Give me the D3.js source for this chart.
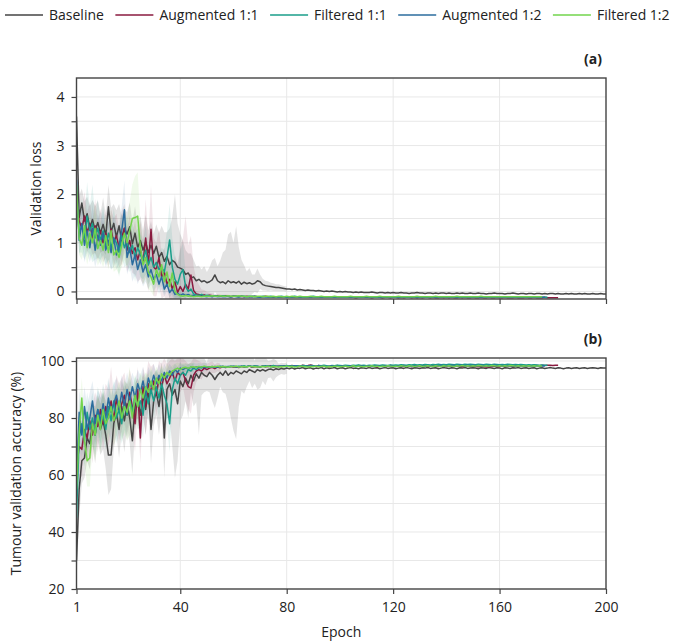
<!DOCTYPE html>
<html>
<head>
<meta charset="utf-8">
<script src="https://cdn.jsdelivr.net/npm/d3@7"></script>
<style>
  body { margin: 0; background: #fff; }
  svg { font-family: "Open Sans", "Noto Sans", sans-serif; }
</style>
</head>
<body>
<svg width="674" height="643"></svg>
<script>
// series
const seriesNames = ["Baseline", "Augmented 1:1", "Filtered 1:1", "Augmented 1:2", "Filtered 1:2"];
const seriesColors = ["#454545", "#8a1a3f", "#1a9e8a", "#2b6c9e", "#72d44c"];

// ticks
const xTicks = [1, 40, 80, 120, 160, 200];
const lossTicks = [0, 1, 2, 3, 4];
const accTicks = [20, 40, 60, 80, 100];

// validation loss, one value per epoch (epoch = index + 1)
const lossBaseline = [
  3.60, 1.52, 1.82, 1.45, 1.60, 1.30, 1.48, 1.25, 1.42, 1.20,
  1.38, 1.15, 1.74, 1.22, 1.40, 1.12, 1.35, 1.05, 1.30, 1.18,
  1.33, 0.98, 1.20, 0.90, 1.05, 0.85, 1.02, 0.80, 0.95, 0.78,
  0.93, 0.70, 0.80, 0.62, 0.72, 0.55, 0.64, 0.60, 0.50, 0.48,
  0.45, 0.35, 0.38, 0.28, 0.30, 0.22, 0.25, 0.20, 0.22, 0.18,
  0.20, 0.24, 0.34, 0.22, 0.18, 0.20, 0.16, 0.22, 0.18, 0.20,
  0.17, 0.21, 0.15, 0.19, 0.16, 0.18, 0.15, 0.17, 0.22, 0.20,
  0.14, 0.12, 0.11, 0.10, 0.09, 0.08, 0.08, 0.07, 0.06, 0.05,
  0.05, 0.04, 0.05, 0.03, 0.04, 0.03, 0.02, 0.03, 0.02, 0.02,
  0.01, 0.02, 0.01, 0.00, 0.01, 0.00, 0.01, 0.00, -0.01, 0.00,
  -0.01, 0.00, -0.01, -0.01, -0.02, -0.01, -0.02, -0.01, -0.02, -0.02,
  -0.02, -0.01, -0.02, -0.03, -0.02, -0.02, -0.03, -0.02, -0.03, -0.02,
  -0.03, -0.03, -0.02, -0.03, -0.03, -0.04, -0.03, -0.03, -0.02, -0.03,
  -0.03, -0.04, -0.03, -0.03, -0.04, -0.03, -0.04, -0.03, -0.03, -0.04,
  -0.03, -0.04, -0.04, -0.03, -0.04, -0.03, -0.04, -0.04, -0.03, -0.04,
  -0.04, -0.03, -0.04, -0.04, -0.05, -0.04, -0.04, -0.03, -0.04, -0.04,
  -0.04, -0.05, -0.04, -0.04, -0.03, -0.04, -0.05, -0.04, -0.04, -0.05,
  -0.04, -0.04, -0.05, -0.04, -0.04, -0.05, -0.04, -0.05, -0.04, -0.04,
  -0.05, -0.04, -0.05, -0.05, -0.04, -0.05, -0.04, -0.05, -0.05, -0.04,
  -0.05, -0.04, -0.05, -0.05, -0.04, -0.05, -0.05, -0.04, -0.05, -0.05
];
const lossAug11 = [
  1.95, 1.45, 1.30, 1.55, 1.20, 1.40, 1.10, 1.35, 1.05, 1.25,
  1.00, 1.20, 0.95, 1.28, 1.00, 1.15, 0.90, 1.10, 1.30, 0.85,
  1.05, 0.78, 0.90, 0.65, 0.85, 0.60, 1.10, 0.55, 1.28, 0.50,
  0.45, 0.70, 0.30, 0.40, 0.15, 0.25, 0.05, 0.20, -0.02, 0.10,
  0.00, 0.15, 0.05, 0.34, 0.02, -0.05, -0.06, -0.08, -0.07, -0.09,
  -0.08, -0.09, -0.10, -0.09, -0.10, -0.10, -0.09, -0.10, -0.11, -0.10,
  -0.10, -0.11, -0.10, -0.11, -0.10, -0.11, -0.11, -0.10, -0.11, -0.11,
  -0.11, -0.10, -0.11, -0.11, -0.12, -0.11, -0.11, -0.12, -0.11, -0.11,
  -0.12, -0.11, -0.12, -0.11, -0.12, -0.12, -0.11, -0.12, -0.12, -0.11,
  -0.12, -0.12, -0.11, -0.12, -0.12, -0.12, -0.11, -0.12, -0.12, -0.12,
  -0.12, -0.11, -0.12, -0.12, -0.12, -0.13, -0.12, -0.12, -0.12, -0.12,
  -0.12, -0.13, -0.12, -0.12, -0.12, -0.13, -0.12, -0.12, -0.13, -0.12,
  -0.12, -0.13, -0.12, -0.13, -0.12, -0.12, -0.13, -0.12, -0.13, -0.12,
  -0.13, -0.12, -0.12, -0.13, -0.12, -0.13, -0.13, -0.12, -0.13, -0.12,
  -0.13, -0.12, -0.13, -0.13, -0.12, -0.13, -0.12, -0.13, -0.13, -0.12,
  -0.13, -0.13, -0.12, -0.13, -0.13, -0.12, -0.13, -0.13, -0.12, -0.13,
  -0.13, -0.12, -0.13, -0.13, -0.13, -0.12, -0.13, -0.13, -0.13, -0.12,
  -0.13, -0.13, -0.12, -0.13, -0.13, -0.13, -0.12, -0.13, -0.13, -0.13,
  -0.13, -0.13
];
const lossFilt11 = [
  2.00, 1.20, 1.35, 1.10, 1.55, 1.25, 1.40, 1.10, 1.30, 1.05,
  1.25, 0.95, 1.20, 0.90, 1.10, 1.00, 0.80, 1.15, 0.90, 1.05,
  0.80, 0.95, 0.70, 0.90, 0.75, 0.65, 0.85, 0.55, 0.70, 0.50,
  0.60, 0.45, 0.50, 0.40, 0.70, 1.06, 0.50, 0.25, 0.15, 0.35,
  0.45, 0.10, 0.00, 0.05, -0.05, -0.07, -0.08, -0.06, -0.09, -0.08,
  -0.09, -0.10, -0.09, -0.10, -0.10, -0.09, -0.10, -0.10, -0.11, -0.10,
  -0.10, -0.11, -0.10, -0.10, -0.11, -0.10, -0.11, -0.10, -0.11, -0.11,
  -0.10, -0.11, -0.11, -0.10, -0.11, -0.11, -0.11, -0.10, -0.11, -0.11,
  -0.11, -0.11, -0.10, -0.11, -0.11, -0.12, -0.11, -0.11, -0.11, -0.10,
  -0.11, -0.11, -0.12, -0.11, -0.11, -0.11, -0.12, -0.11, -0.11, -0.11,
  -0.11, -0.12, -0.11, -0.11, -0.12, -0.11, -0.11, -0.12, -0.11, -0.11,
  -0.12, -0.11, -0.11, -0.12, -0.11, -0.12, -0.11, -0.11, -0.12, -0.11,
  -0.11, -0.12, -0.11, -0.12, -0.11, -0.11, -0.12, -0.11, -0.12, -0.11,
  -0.12, -0.11, -0.11, -0.12, -0.11, -0.12, -0.12, -0.11, -0.11, -0.12,
  -0.11, -0.12, -0.11, -0.12, -0.12, -0.11, -0.12, -0.11, -0.12, -0.12,
  -0.11, -0.12, -0.12, -0.11, -0.12, -0.12, -0.11, -0.12, -0.12, -0.11,
  -0.12, -0.12, -0.11, -0.12, -0.12, -0.12, -0.11, -0.12, -0.12, -0.12,
  -0.11, -0.12, -0.12, -0.12, -0.11, -0.12, -0.12, -0.12
];
const lossAug12 = [
  2.30, 1.05, 1.40, 0.95, 1.25, 0.90, 1.30, 0.85, 1.15, 0.95,
  1.20, 0.85, 1.05, 0.80, 1.10, 0.75, 0.95, 1.25, 1.68, 0.70,
  0.90, 0.55, 0.75, 0.45, 0.65, 0.40, 0.55, 0.30, 0.45, 0.25,
  0.35, 0.15, 0.30, 0.05, 0.15, -0.02, 0.05, -0.06, -0.04, -0.08,
  -0.05, -0.08, -0.06, -0.09, -0.08, -0.10, -0.09, -0.10, -0.10, -0.11,
  -0.10, -0.11, -0.10, -0.11, -0.10, -0.11, -0.11, -0.10, -0.11, -0.10,
  -0.11, -0.11, -0.10, -0.11, -0.11, -0.11, -0.10, -0.11, -0.11, -0.12,
  -0.11, -0.11, -0.11, -0.12, -0.11, -0.11, -0.12, -0.11, -0.11, -0.12,
  -0.11, -0.12, -0.11, -0.11, -0.12, -0.11, -0.12, -0.11, -0.12, -0.11,
  -0.12, -0.11, -0.12, -0.12, -0.11, -0.12, -0.11, -0.12, -0.12, -0.11,
  -0.12, -0.12, -0.11, -0.12, -0.12, -0.11, -0.12, -0.12, -0.12, -0.11,
  -0.12, -0.12, -0.12, -0.11, -0.12, -0.12, -0.12, -0.11, -0.12, -0.12,
  -0.12, -0.12, -0.11, -0.12, -0.12, -0.12, -0.12, -0.11, -0.12, -0.12,
  -0.12, -0.12, -0.12, -0.11, -0.12, -0.12, -0.12, -0.12, -0.11, -0.12,
  -0.12, -0.12, -0.12, -0.12, -0.11, -0.12, -0.12, -0.12, -0.12, -0.12,
  -0.11, -0.12, -0.12, -0.12, -0.12, -0.12, -0.11, -0.12, -0.12, -0.12,
  -0.12, -0.12, -0.11, -0.12, -0.12, -0.12, -0.12, -0.12, -0.12, -0.11,
  -0.12, -0.12, -0.12, -0.12, -0.12, -0.12, -0.12
];
const lossFilt12 = [
  2.20, 1.10, 0.95, 1.35, 0.90, 1.20, 1.00, 1.30, 0.88, 1.05,
  0.85, 1.15, 0.80, 1.25, 0.75, 0.85, 0.70, 0.95, 1.20, 1.00,
  1.25, 1.50, 1.52, 1.55, 0.90, 0.55, 0.70, 0.40, 0.30, 0.15,
  0.45, 0.30, 0.55, 0.20, 0.40, 0.10, 0.38, 0.00, -0.06, -0.09,
  -0.10, -0.08, -0.10, -0.09, -0.11, -0.10, -0.10, -0.11, -0.10, -0.10,
  -0.10, -0.09, -0.10, -0.10, -0.09, -0.10, -0.10, -0.09, -0.10, -0.10,
  -0.10, -0.09, -0.10, -0.10, -0.11, -0.10, -0.10, -0.11, -0.10, -0.10,
  -0.11, -0.10, -0.10, -0.11, -0.10, -0.11, -0.10, -0.11, -0.11, -0.10,
  -0.11, -0.10, -0.11, -0.11, -0.10, -0.11, -0.11, -0.11, -0.10, -0.11,
  -0.11, -0.11, -0.10, -0.11, -0.11, -0.11, -0.11, -0.10, -0.11, -0.11,
  -0.11, -0.11, -0.11, -0.10, -0.11, -0.11, -0.11, -0.11, -0.11, -0.10,
  -0.11, -0.11, -0.11, -0.11, -0.10, -0.11, -0.11, -0.11, -0.11, -0.11,
  -0.11, -0.10, -0.11, -0.11, -0.11, -0.11, -0.11, -0.11, -0.10, -0.11,
  -0.11, -0.11, -0.11, -0.11, -0.11, -0.10, -0.11, -0.11, -0.11, -0.11,
  -0.11, -0.11, -0.11, -0.10, -0.11, -0.11, -0.11, -0.11, -0.11, -0.11,
  -0.11, -0.11, -0.10, -0.11, -0.11, -0.11, -0.11, -0.11, -0.11, -0.11,
  -0.11, -0.11, -0.11, -0.11, -0.11, -0.11, -0.11, -0.11, -0.11, -0.11,
  -0.11, -0.11, -0.11, -0.11, -0.11, -0.11
];

// spread of the loss over runs (shaded band = mean ± spread), early epochs
const lossBaselineSd = [
  0.50, 0.45, 0.30, 0.40, 0.35, 0.45, 0.40, 0.50, 0.45, 0.40,
  0.55, 0.40, 0.45, 0.50, 0.40, 0.55, 0.45, 0.50, 0.40, 0.45,
  0.50, 0.45, 0.55, 0.45, 0.50, 0.40, 0.55, 0.45, 0.50, 0.40,
  0.45, 0.50, 0.55, 0.60, 0.50, 0.75, 0.90, 1.40, 0.90, 0.70,
  0.60, 0.50, 0.40, 0.50, 0.35, 0.30, 0.28, 0.25, 0.30, 0.22,
  0.30, 0.40, 0.35, 0.30, 0.45, 0.60, 0.70, 0.95, 1.05, 0.80,
  1.17, 0.70, 0.50, 0.35, 0.25, 0.30, 0.20, 0.18, 0.25, 0.15,
  0.12, 0.10, 0.10, 0.08, 0.08, 0.07, 0.07, 0.06, 0.05, 0.05
];
const lossAug11Sd = [
  0.40, 0.45, 0.35, 0.50, 0.40, 0.45, 0.35, 0.55, 0.40, 0.45,
  0.40, 0.50, 0.45, 0.40, 0.50, 0.45, 0.40, 0.55, 0.50, 0.45,
  0.50, 0.40, 0.55, 0.45, 0.60, 0.45, 0.80, 0.55, 0.90, 0.60,
  0.55, 0.60, 0.45, 0.50, 0.40, 0.45, 0.40, 0.55, 0.60, 0.80,
  1.10, 1.40, 0.90, 0.80, 0.50, 0.30, 0.20, 0.12, 0.10, 0.08,
  0.06, 0.05, 0.05, 0.04, 0.04, 0.03, 0.03, 0.03, 0.03, 0.03
];
const lossFilt11Sd = [
  0.35, 0.40, 0.55, 0.45, 0.70, 0.50, 0.80, 0.45, 0.60, 0.40,
  0.50, 0.40, 0.55, 0.45, 0.60, 0.40, 0.50, 0.45, 0.40, 0.50,
  0.40, 0.45, 0.50, 0.40, 0.45, 0.40, 0.50, 0.40, 0.45, 0.35,
  0.40, 0.35, 0.40, 0.45, 0.55, 0.75, 0.60, 0.45, 0.35, 0.50,
  0.55, 0.30, 0.20, 0.15, 0.10, 0.08, 0.06, 0.05, 0.05, 0.04,
  0.04, 0.03, 0.03, 0.03, 0.03
];
const lossAug12Sd = [
  0.35, 0.30, 0.40, 0.35, 0.45, 0.30, 0.50, 0.35, 0.45, 0.40,
  0.45, 0.35, 0.40, 0.35, 0.45, 0.30, 0.40, 0.50, 0.60, 0.35,
  0.40, 0.35, 0.40, 0.30, 0.35, 0.30, 0.35, 0.25, 0.30, 0.25,
  0.25, 0.20, 0.25, 0.15, 0.15, 0.10, 0.10, 0.08, 0.08, 0.06,
  0.06, 0.05, 0.05, 0.05, 0.04, 0.04, 0.04, 0.03, 0.03, 0.03
];
const lossFilt12Sd = [
  0.30, 0.35, 0.30, 0.45, 0.35, 0.40, 0.35, 0.50, 0.35, 0.40,
  0.35, 0.45, 0.35, 0.45, 0.35, 0.40, 0.35, 0.45, 0.55, 0.50,
  0.60, 0.70, 0.85, 0.90, 0.55, 0.40, 0.45, 0.35, 0.30, 0.25,
  0.30, 0.25, 0.30, 0.20, 0.25, 0.15, 0.20, 0.10, 0.08, 0.06,
  0.05, 0.05, 0.05, 0.04, 0.04, 0.04, 0.03, 0.03, 0.03, 0.03
];

// tumour validation accuracy (%), one value per epoch
const accBaseline = [
  30, 55, 65, 66, 73, 71, 78, 74, 80, 76,
  79, 74, 67, 67, 78, 82, 76, 84, 79, 85,
  80, 72, 84, 87, 81, 88, 83, 90, 76, 86,
  89, 84, 91, 73, 90, 92, 88, 90, 85, 93,
  91, 94, 92, 95, 93, 95.5, 94, 96, 95, 94.5,
  96, 95, 93.5, 95, 96, 95, 96.5, 95, 96, 95.5,
  96.5, 96, 95.5, 96.5, 96, 97, 96.5, 96, 97, 96.5,
  97, 96.5, 97, 97.2, 96.8, 97.3, 97, 97.4, 97.2, 97.5,
  97.3, 97.6, 97.2, 97.5, 97.4, 97.7, 97.3, 97.5, 97.6, 97.2,
  97.5, 97.4, 97.7, 97.3, 97.6, 97.4, 97.5, 97.7, 97.3, 97.5,
  97.6, 97.3, 97.5, 97.7, 97.4, 97.5, 97.3, 97.6, 97.5, 97.4,
  97.7, 97.4, 97.5, 97.6, 97.3, 97.5, 97.7, 97.4, 97.5, 97.6,
  97.3, 97.5, 97.6, 97.4, 97.7, 97.5, 97.3, 97.6, 97.5, 97.4,
  97.6, 97.5, 97.7, 97.4, 97.5, 97.6, 97.3, 97.5, 97.7, 97.5,
  97.4, 97.6, 97.5, 97.3, 97.6, 97.5, 97.7, 97.4, 97.5, 97.6,
  97.5, 97.3, 97.6, 97.5, 97.4, 97.7, 97.5, 97.4, 97.6, 97.5,
  97.3, 97.6, 97.5, 97.4, 97.6, 97.5, 97.7, 97.4, 97.5, 97.6,
  97.4, 97.5, 97.6, 97.3, 97.5, 97.6, 97.4, 97.5, 97.7, 97.5,
  97.4, 97.6, 97.5, 97.3, 97.5, 97.6, 97.4, 97.5, 97.6, 97.4,
  97.5, 97.6, 97.4, 97.5, 97.6, 97.5, 97.4, 97.6, 97.5, 97.5
];
const accAug11 = [
  62, 70, 69, 76, 73, 79, 74, 81, 77, 83,
  78, 84, 80, 86, 79, 87, 82, 85, 88, 81,
  89, 84, 78, 90, 73, 91, 84, 92, 89, 93,
  88, 94, 91, 95, 92, 94, 96, 93, 96, 95,
  96, 93, 91, 90.5, 95, 96.5, 97, 96.5, 97.5, 97,
  97.5, 97.8, 97.3, 97.9, 97.6, 98.0, 97.7, 97.9, 98.1, 97.8,
  98.0, 97.7, 98.1, 97.9, 98.0, 98.2, 97.8, 98.0, 98.1, 97.9,
  98.2, 98.0, 98.1, 98.3, 97.9, 98.1, 98.2, 98.0, 98.3, 98.1,
  98.2, 98.4, 98.1, 98.3, 98.2, 98.5, 98.3, 98.4, 98.6, 98.3,
  98.2, 98.4, 98.1, 98.3, 98.2, 98.0, 98.3, 98.2, 98.4, 98.1,
  98.3, 98.2, 98.0, 98.3, 98.1, 98.2, 98.4, 98.1, 98.3, 98.2,
  98.1, 98.3, 98.2, 98.0, 98.2, 98.3, 98.1, 98.2, 98.4, 98.2,
  98.1, 98.3, 98.2, 98.1, 98.3, 98.2, 98.0, 98.2, 98.3, 98.1,
  98.2, 98.3, 98.1, 98.2, 98.4, 98.2, 98.1, 98.3, 98.2, 98.1,
  98.3, 98.2, 98.1, 98.3, 98.2, 98.0, 98.2, 98.3, 98.1, 98.2,
  98.1, 98.0, 98.2, 98.1, 97.9, 98.1, 98.0, 98.2, 98.1, 98.0,
  98.2, 98.1, 98.3, 98.2, 98.1, 98.3, 98.2, 98.4, 98.3, 98.2,
  98.4, 98.3, 98.5, 98.4, 98.3, 98.5, 98.4, 98.5, 98.5, 98.4,
  98.5, 98.5
];
const accFilt11 = [
  45, 73, 78, 72, 82, 76, 80, 74, 83, 78,
  81, 76, 84, 79, 86, 80, 83, 78, 85, 81,
  87, 82, 88, 84, 86, 81, 89, 85, 90, 86,
  91, 87, 92, 88, 85, 78, 90, 94, 92, 95,
  96, 95, 97, 96.5, 97.5, 97, 97.8, 97.5, 98, 97.8,
  97.9, 98.1, 97.8, 98.0, 98.2, 97.9, 98.1, 98.0, 98.2, 98.1,
  98.0, 98.2, 98.1, 98.3, 98.0, 98.2, 98.1, 98.3, 98.2, 98.0,
  98.2, 98.3, 98.1, 98.2, 98.4, 98.2, 98.1, 98.3, 98.2, 98.4,
  98.2, 98.3, 98.1, 98.3, 98.2, 98.4, 98.3, 98.2, 98.4, 98.3,
  98.2, 98.4, 98.3, 98.5, 98.3, 98.2, 98.4, 98.3, 98.5, 98.4,
  98.3, 98.5, 98.4, 98.3, 98.5, 98.4, 98.6, 98.4, 98.5, 98.3,
  98.5, 98.4, 98.6, 98.5, 98.4, 98.6, 98.5, 98.4, 98.6, 98.5,
  98.6, 98.5, 98.7, 98.6, 98.5, 98.7, 98.6, 98.8, 98.6, 98.7,
  98.6, 98.8, 98.7, 98.6, 98.8, 98.7, 98.9, 98.7, 98.8, 98.7,
  98.9, 98.8, 98.7, 98.9, 98.8, 98.7, 98.9, 98.8, 98.9, 98.8,
  98.7, 98.9, 98.8, 98.7, 98.9, 98.8, 98.7, 98.9, 98.8, 98.7,
  98.8, 98.7, 98.9, 98.8, 98.7, 98.8, 98.7, 98.8, 98.7, 98.6,
  98.7, 98.6, 98.7, 98.6, 98.5, 98.6, 98.5, 98.5
];
const accAug12 = [
  58, 82, 74, 84, 76, 80, 86, 78, 83, 79,
  85, 80, 87, 82, 85, 88, 83, 89, 84, 90,
  86, 91, 87, 92, 89, 93, 88, 94, 91, 95,
  92, 95, 93, 96, 94, 96.5, 95, 97, 96, 97.5,
  97.0, 97.6, 97.3, 97.8, 97.5, 97.9, 97.6, 98.0, 97.8, 97.7,
  98.0, 97.8, 98.1, 97.9, 98.0, 98.2, 97.9, 98.1, 98.0, 98.2,
  98.1, 97.9, 98.2, 98.0, 98.1, 98.3, 98.0, 98.2, 98.1, 98.0,
  98.2, 98.1, 98.3, 98.1, 98.0, 98.2, 98.1, 98.3, 98.2, 98.0,
  98.2, 98.1, 98.3, 98.2, 98.1, 98.2, 98.0, 98.2, 98.3, 98.1,
  98.2, 98.3, 98.1, 98.2, 98.0, 98.2, 98.3, 98.1, 98.2, 98.1,
  98.3, 98.2, 98.1, 98.3, 98.2, 98.0, 98.2, 98.3, 98.1, 98.2,
  98.3, 98.1, 98.2, 98.3, 98.2, 98.1, 98.3, 98.2, 98.4, 98.2,
  98.1, 98.3, 98.2, 98.4, 98.2, 98.3, 98.1, 98.3, 98.2, 98.4,
  98.3, 98.2, 98.4, 98.3, 98.2, 98.4, 98.3, 98.5, 98.3, 98.4,
  98.3, 98.5, 98.4, 98.3, 98.5, 98.4, 98.3, 98.5, 98.4, 98.5,
  98.4, 98.3, 98.5, 98.4, 98.3, 98.4, 98.3, 98.5, 98.4, 98.3,
  98.4, 98.3, 98.4, 98.3, 98.2, 98.4, 98.3, 98.2, 98.3, 98.2,
  98.3, 98.2, 98.3, 98.2, 98.3, 98.2, 98.2
];
const accFilt12 = [
  55, 75, 87, 72, 65, 66, 78, 74, 81, 76,
  83, 78, 80, 84, 79, 82, 86, 80, 84, 82,
  86, 80, 88, 84, 90, 87, 91, 89, 93, 90,
  94, 92, 95.5, 94, 96, 95, 96.5, 97, 97.5, 97,
  97.6, 97.8, 97.4, 97.9, 98.0, 97.7, 98.1, 97.9, 98.2, 98.0,
  97.9, 98.1, 98.0, 98.2, 97.9, 98.1, 98.0, 97.8, 98.1, 98.0,
  98.2, 97.9, 98.0, 98.1, 97.9, 98.2, 98.0, 98.1, 97.9, 98.0,
  98.1, 98.0, 98.2, 97.9, 98.1, 98.0, 97.9, 98.1, 98.0, 98.2,
  98.0, 98.1, 97.9, 98.0, 98.2, 98.1, 98.0, 97.9, 98.1, 98.0,
  98.2, 98.0, 98.1, 98.2, 97.9, 98.1, 98.0, 98.2, 98.1, 98.0,
  98.1, 98.2, 98.0, 98.1, 98.3, 98.0, 98.2, 98.1, 98.0, 98.2,
  98.1, 98.3, 98.1, 98.2, 98.0, 98.2, 98.1, 98.3, 98.2, 98.1,
  98.2, 98.1, 98.3, 98.2, 98.1, 98.3, 98.2, 98.1, 98.2, 98.3,
  98.1, 98.2, 98.3, 98.2, 98.1, 98.3, 98.2, 98.1, 98.3, 98.2,
  98.3, 98.2, 98.1, 98.3, 98.2, 98.4, 98.2, 98.3, 98.2, 98.3,
  98.2, 98.4, 98.3, 98.2, 98.3, 98.2, 98.4, 98.3, 98.2, 98.3,
  98.2, 98.3, 98.2, 98.4, 98.3, 98.2, 98.3, 98.2, 98.3, 98.2,
  98.3, 98.2, 98.3, 98.2, 98.3, 98.2
];

// spread of the accuracy over runs, early epochs
const accBaselineSd = [
  8, 10, 8, 7, 8, 9, 7, 10, 8, 9,
  10, 12, 14, 12, 9, 8, 10, 9, 11, 8,
  9, 12, 8, 7, 10, 8, 9, 7, 12, 9,
  8, 10, 9, 14, 10, 12, 18, 31, 20, 14,
  10, 8, 12, 6, 9, 10, 20, 8, 6, 5,
  7, 9, 10, 8, 5, 6, 8, 10, 16, 20,
  24, 12, 6, 8, 5, 4, 6, 4, 7, 6,
  4, 5, 3, 3, 4, 3, 2, 2, 2, 2
];
const accAug11Sd = [
  8, 9, 10, 8, 9, 7, 10, 8, 9, 7,
  9, 8, 10, 12, 9, 8, 10, 9, 8, 9,
  8, 9, 10, 8, 9, 7, 10, 8, 9, 6,
  7, 6, 8, 6, 7, 6, 5, 7, 5, 6,
  5, 7, 8, 9, 6, 4, 3, 3, 2, 2,
  2, 2, 1.5, 1.5, 1.5
];
const accFilt11Sd = [
  10, 9, 8, 9, 7, 8, 9, 7, 8, 9,
  8, 7, 9, 8, 7, 9, 8, 7, 9, 8,
  7, 8, 7, 8, 9, 8, 7, 6, 7, 6,
  6, 7, 6, 7, 8, 10, 6, 4, 5, 3,
  3, 3, 2, 2, 2, 2, 1.5, 1.5, 1.5, 1.5
];
const accAug12Sd = [
  9, 8, 9, 7, 8, 9, 7, 8, 7, 8,
  7, 8, 7, 6, 7, 6, 7, 6, 7, 6,
  6, 5, 6, 5, 6, 5, 5, 4, 5, 4,
  4, 4, 3, 3, 3, 2.5, 2.5, 2, 2, 2,
  1.5, 1.5, 1.5, 1.5, 1.5
];
const accFilt12Sd = [
  8, 9, 7, 8, 9, 10, 8, 9, 7, 8,
  8, 7, 8, 7, 9, 8, 7, 8, 9, 10,
  12, 8, 7, 8, 6, 7, 5, 6, 5, 5,
  4, 4, 3, 3, 3, 2.5, 2, 2, 2, 2,
  1.5, 1.5, 1.5, 1.5, 1.5
];

const lossMeans = [lossBaseline, lossAug11, lossFilt11, lossAug12, lossFilt12];
const lossSds = [lossBaselineSd, lossAug11Sd, lossFilt11Sd, lossAug12Sd, lossFilt12Sd];
const accMeans = [accBaseline, accAug11, accFilt11, accAug12, accFilt12];
const accSds = [accBaselineSd, accAug11Sd, accFilt11Sd, accAug12Sd, accFilt12Sd];

// layout
const left = 76.5, right = 606;
const svg = d3.select("svg");
const x = d3.scaleLinear().domain([1, 200]).range([left, right]);

const panels = [
  { id: "a", top: 78, bottom: 299, domain: [-0.155, 4.39], ticks: lossTicks,
    minor: d3.range(0.5, 4, 1), grid: d3.range(0, 4.01, 0.5),
    means: lossMeans, sds: lossSds, label: "Validation loss", labelX: 37, xLabels: false },
  { id: "b", top: 358, bottom: 589, domain: [20, 101.05], ticks: accTicks,
    minor: [30, 50, 70, 90], grid: d3.range(30, 101, 10),
    means: accMeans, sds: accSds, label: "Tumour validation accuracy (%)", labelX: 17, xLabels: true }
];

panels.forEach(p => {
  const y = d3.scaleLinear().domain(p.domain).range([p.bottom, p.top]);
  const g = svg.append("g");

  g.append("clipPath").attr("id", "clip-" + p.id)
    .append("rect").attr("x", left).attr("y", p.top)
    .attr("width", right - left).attr("height", p.bottom - p.top);

  // grid
  g.append("g").selectAll("line").data(p.grid).join("line")
    .attr("x1", left).attr("x2", right)
    .attr("y1", d => y(d)).attr("y2", d => y(d))
    .attr("stroke", "#e8e8e8").attr("stroke-width", 1);
  g.append("g").selectAll("line").data(xTicks.slice(1, -1)).join("line")
    .attr("x1", d => x(d)).attr("x2", d => x(d))
    .attr("y1", p.top).attr("y2", p.bottom)
    .attr("stroke", "#e8e8e8").attr("stroke-width", 1);

  const plot = g.append("g").attr("clip-path", "url(#clip-" + p.id + ")");

  // bands
  p.means.forEach((m, k) => {
    const sd = p.sds[k];
    const area = d3.area()
      .x((d, i) => x(i + 1))
      .y0((d, i) => y(m[i] - d))
      .y1((d, i) => y(m[i] + d));
    plot.append("path").datum(sd)
      .attr("d", area)
      .attr("fill", seriesColors[k])
      .attr("fill-opacity", k === 0 ? 0.15 : 0.11);
  });

  // lines
  const line = d3.line().x((d, i) => x(i + 1)).y(d => y(d));
  p.means.forEach((m, k) => {
    plot.append("path").datum(m)
      .attr("d", line)
      .attr("fill", "none")
      .attr("stroke", seriesColors[k])
      .attr("stroke-width", 1.5)
      .attr("stroke-linejoin", "round");
  });

  // axes
  const yAxis = d3.axisLeft(y).tickValues(p.ticks.concat(p.minor))
    .tickSize(5).tickPadding(7)
    .tickFormat(d => p.ticks.includes(d) ? d : "");
  const ya = g.append("g").attr("transform", `translate(${left},0)`).call(yAxis);

  const xAxis = d3.axisBottom(x).tickValues(xTicks).tickSize(5).tickPadding(8)
    .tickFormat(d => p.xLabels ? d : "");
  const xa = g.append("g").attr("transform", `translate(0,${p.bottom})`).call(xAxis);

  [ya, xa].forEach(a => {
    a.select(".domain").remove();
    a.selectAll("line").attr("stroke", "#444").attr("stroke-width", 1.2);
    a.selectAll("text").attr("font-size", 14).attr("fill", "#222")
      .attr("font-family", "\"Open Sans\", sans-serif");
  });

  // frame
  g.append("rect").attr("x", left).attr("y", p.top)
    .attr("width", right - left).attr("height", p.bottom - p.top)
    .attr("fill", "none").attr("stroke", "#444").attr("stroke-width", 1.4);

  // y title
  g.append("text")
    .attr("transform", `translate(${p.labelX},${(p.top + p.bottom) / 2}) rotate(-90)`)
    .attr("text-anchor", "middle").attr("dominant-baseline", "middle")
    .attr("font-size", 14).attr("fill", "#222")
    .text(p.label);

  // panel letter
  g.append("text")
    .attr("x", 602).attr("y", p.top - 14)
    .attr("text-anchor", "end").attr("font-size", 14).attr("font-weight", "bold")
    .attr("fill", "#222")
    .text("(" + p.id + ")");
});

// x title
svg.append("text")
  .attr("x", (left + right) / 2).attr("y", 637)
  .attr("text-anchor", "middle").attr("font-size", 14).attr("fill", "#222")
  .text("Epoch");

// legend
const legend = svg.append("g");
let lx = 5;
seriesNames.forEach((name, k) => {
  legend.append("line")
    .attr("x1", lx).attr("x2", lx + 38).attr("y1", 15).attr("y2", 15)
    .attr("stroke", seriesColors[k]).attr("stroke-width", 1.6);
  const t = legend.append("text")
    .attr("x", lx + 44).attr("y", 20)
    .attr("font-size", 14).attr("fill", "#222")
    .text(name);
  lx += 44 + t.node().getComputedTextLength() + 11.5;
});
</script>
</body>
</html>
